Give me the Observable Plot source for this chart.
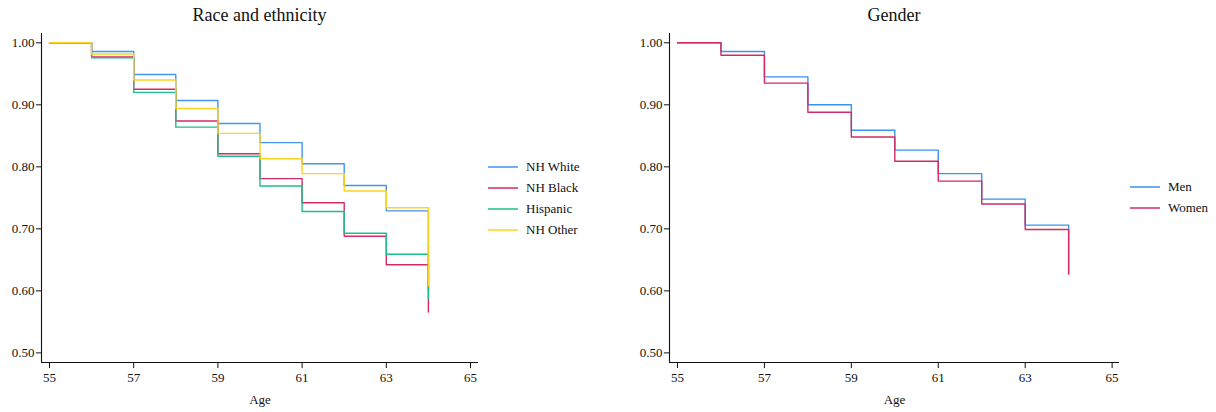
<!DOCTYPE html>
<html><head><meta charset="utf-8">
<script src="https://cdn.jsdelivr.net/npm/d3@7"></script>
<script src="https://cdn.jsdelivr.net/npm/@observablehq/plot@0.6"></script>
<style>
body{margin:0;background:#fff;font-family:"Liberation Serif","Times New Roman",serif;color:#111;}
#wrap{position:relative;width:1216px;height:412px;overflow:hidden;}
.panel{position:absolute;top:0;}
.panel text{font-family:"Liberation Serif","Times New Roman",serif !important;}
.title{position:absolute;top:5px;font-size:18px;text-align:center;white-space:nowrap;transform:translateX(-50%);}
.legend{position:absolute;font-size:13px;}
.legend .row{position:absolute;left:0;height:20px;display:flex;align-items:center;white-space:nowrap;}
.legend svg{margin-right:8px;}
</style></head><body><div id="wrap"></div>
<script>
// ---- data ----
const ages = [55, 56, 57, 58, 59, 60, 61, 62, 63, 64];
const raceGroups = ["NH White", "NH Black", "Hispanic", "NH Other"];
const raceColors = ["#4296f2", "#d42a63", "#1dbf88", "#ffd21c"];
const nhWhite  = [1.000, 0.986, 0.949, 0.907, 0.870, 0.839, 0.805, 0.770, 0.729, 0.600];
const nhBlack  = [1.000, 0.977, 0.925, 0.874, 0.821, 0.781, 0.742, 0.688, 0.642, 0.566];
const hispanic = [1.000, 0.976, 0.920, 0.864, 0.817, 0.769, 0.728, 0.693, 0.659, 0.588];
const nhOther  = [1.000, 0.982, 0.940, 0.894, 0.854, 0.813, 0.789, 0.761, 0.734, 0.608];
const genderGroups = ["Men", "Women"];
const genderColors = ["#3a93f0", "#d42a63"];
const men   = [1.000, 0.986, 0.945, 0.900, 0.859, 0.827, 0.789, 0.748, 0.706, 0.628];
const women = [1.000, 0.980, 0.935, 0.888, 0.848, 0.809, 0.777, 0.740, 0.699, 0.627];
const xTicks = [55, 57, 59, 61, 63, 65];
const yTicks = [0.5, 0.6, 0.7, 0.8, 0.9, 1.0];

const wrap = document.getElementById("wrap");
const serif = '"Liberation Serif","Times New Roman",serif';

function tidy(groups, series) {
  const rows = [];
  groups.forEach((g, i) => series[i].forEach((v, j) => rows.push({age: ages[j], value: v, group: g})));
  return rows;
}

function panel({left, width, xDomain, groups, colors, series, title, legendLeft, legendTop, legendGap}) {
  const yDomain = [0.4845, 1.015];
  const chart = Plot.plot({
    width, height: 412,
    marginLeft: 41, marginRight: 2, marginTop: 33, marginBottom: 50,
    style: {fontFamily: serif, fontSize: "13px", color: "#111", background: "white"},
    x: {domain: xDomain},
    y: {domain: yDomain},
    color: {domain: groups, range: colors},
    marks: [
      Plot.ruleX([xDomain[0]], {stroke: "#111", strokeWidth: 1.1}),
      Plot.ruleY([yDomain[0]], {stroke: "#111", strokeWidth: 1.1}),
      Plot.axisY({ticks: yTicks, tickFormat: d3.format(".2f"), tickSize: 5, tickPadding: 2, label: null, fontSize: 13, fontFamily: serif}),
      Plot.axisX({ticks: xTicks, tickFormat: d => String(d), tickSize: 6, tickPadding: 4, fontSize: 13, fontFamily: serif,
                  label: "Age", labelAnchor: "center", labelOffset: 41, labelArrow: "none"}),
      Plot.line(tidy(groups, series), {x: "age", y: "value", z: "group", stroke: "group", curve: "step-after", strokeWidth: 1.4})
    ]
  });
  chart.classList.add("panel");
  chart.style.left = left + "px";
  wrap.appendChild(chart);

  const t = document.createElement("div");
  t.className = "title";
  t.textContent = title;
  t.style.left = (left + 41 + (width - 43) / 2) + "px";
  wrap.appendChild(t);

  const lg = document.createElement("div");
  lg.className = "legend";
  lg.style.left = legendLeft + "px";
  lg.style.top = legendTop + "px";
  groups.forEach((g, i) => {
    const r = document.createElement("div");
    r.className = "row";
    r.style.top = (i * legendGap) + "px";
    r.innerHTML = `<svg width="30" height="4"><line x1="0" x2="30" y1="2" y2="2" stroke="${colors[i]}" stroke-width="1.5"/></svg><span>${g}</span>`;
    lg.appendChild(r);
  });
  wrap.appendChild(lg);
}

panel({left: 0, width: 480, xDomain: [54.81, 65.19], groups: raceGroups, colors: raceColors,
       series: [nhWhite, nhBlack, hispanic, nhOther], title: "Race and ethnicity",
       legendLeft: 488, legendTop: 157, legendGap: 21});
panel({left: 628, width: 493, xDomain: [54.816, 65.17], groups: genderGroups, colors: genderColors,
       series: [men, women], title: "Gender",
       legendLeft: 1130, legendTop: 177, legendGap: 20.5});
</script></body></html>
